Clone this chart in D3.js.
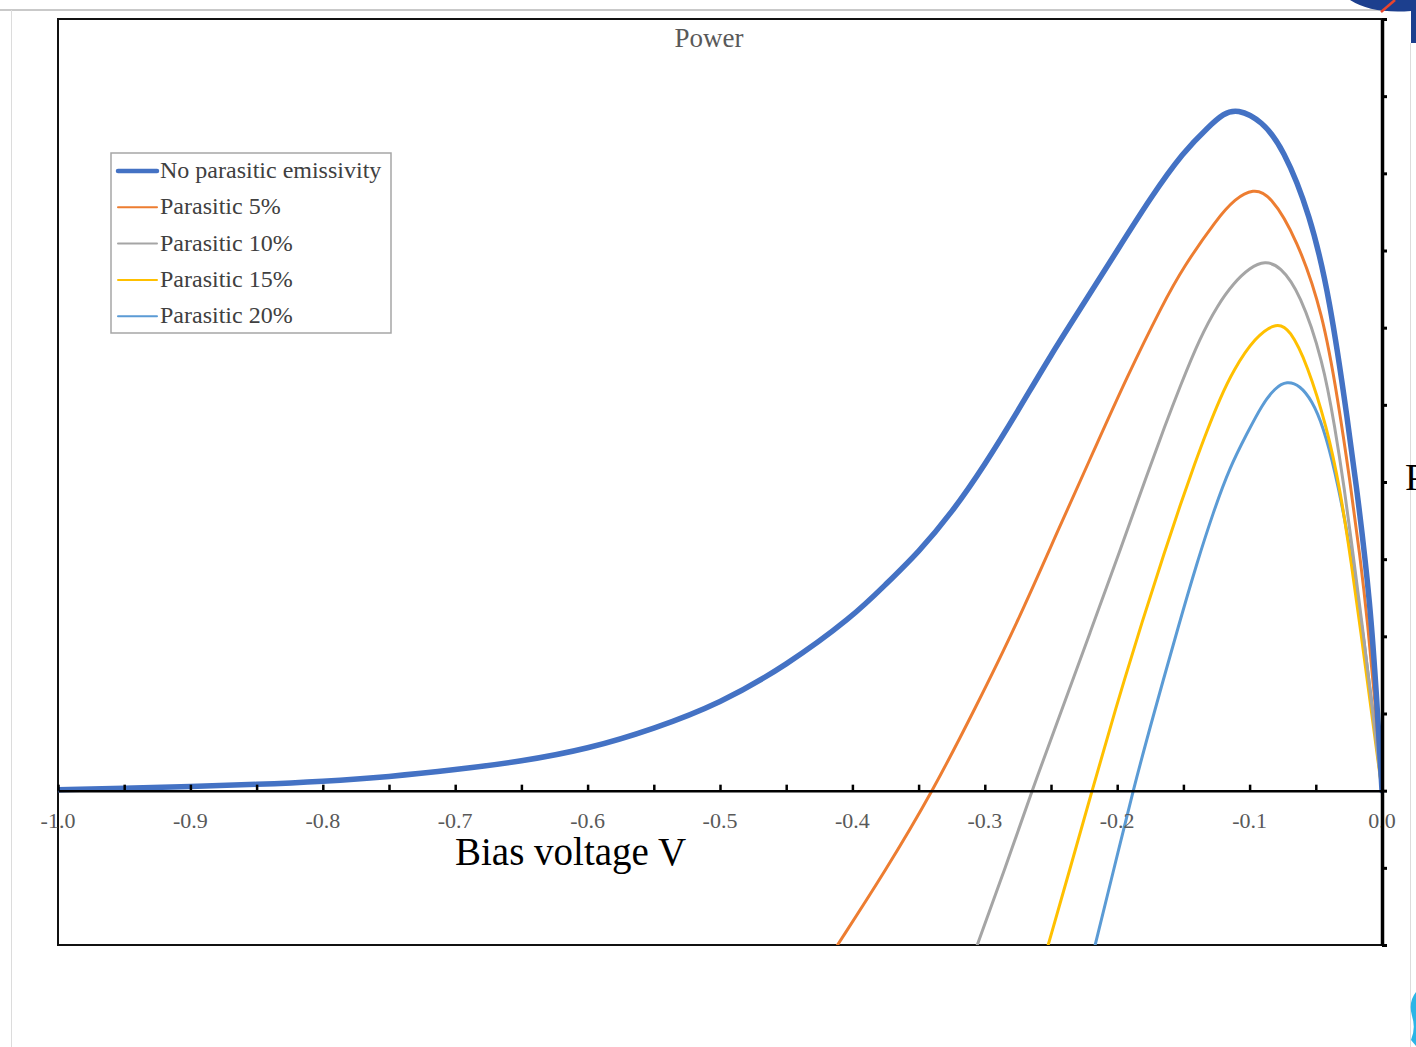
<!DOCTYPE html>
<html>
<head>
<meta charset="utf-8">
<script src="https://cdn.jsdelivr.net/npm/d3@7"></script>
<style>
  body { margin: 0; background: #fff; }
  svg { display: block; }
</style>
</head>
<body>
<div id="chart"></div>
<script>
// --- Data (bias voltage V, power in axis units) ---
const seriesNames = ["No parasitic emissivity", "Parasitic 5%", "Parasitic 10%", "Parasitic 15%", "Parasitic 20%"];

const voltsNone = [-1.0, -0.95, -0.9, -0.85, -0.8, -0.75, -0.7, -0.65, -0.6, -0.55, -0.5, -0.45, -0.4, -0.375, -0.35, -0.325, -0.3, -0.275, -0.25, -0.225, -0.2, -0.175, -0.15, -0.13, -0.12, -0.1095, -0.0906, -0.0748, -0.0544, -0.0393, -0.0257, -0.0174, -0.0091, -0.0038, 0];
const powerNone = [0.013, 0.03, 0.052, 0.08, 0.12, 0.18, 0.27, 0.38, 0.54, 0.80, 1.13, 1.62, 2.25, 2.67, 3.09, 3.60, 4.22, 4.92, 5.65, 6.32, 7.00, 7.68, 8.28, 8.62, 8.77, 8.84, 8.68, 8.332, 7.477, 6.376, 4.769, 3.693, 2.462, 1.166, 0];

const volts5 = [-0.4116, -0.3754, -0.3391, -0.3074, -0.2764, -0.2432, -0.2183, -0.1926, -0.1654, -0.1503, -0.1246, -0.111, -0.0974, -0.0846, -0.0642, -0.0446, -0.0332, -0.0242, -0.0166, -0.0106, -0.0053, 0];
const power5 = [-2.009, -1.05, 0, 1.063, 2.138, 3.434, 4.38, 5.365, 6.311, 6.777, 7.412, 7.67, 7.80, 7.73, 7.153, 6.181, 5.054, 4.017, 3.045, 2.138, 1.166, 0];

const volts10 = [-0.3059, -0.2847, -0.2644, -0.2432, -0.2205, -0.1979, -0.1775, -0.1639, -0.1526, -0.1375, -0.1239, -0.1125, -0.0997, -0.0884, -0.077, -0.0619, -0.0446, -0.0355, -0.0287, -0.0212, -0.0144, -0.0076, 0];
const power10 = [-2.009, -1.011, 0, 0.985, 2.047, 3.11, 4.095, 4.73, 5.235, 5.87, 6.298, 6.57, 6.78, 6.865, 6.80, 6.453, 5.572, 4.704, 3.952, 2.98, 2.073, 1.101, 0];

const volts15 = [-0.2523, -0.2356, -0.219, -0.2017, -0.1805, -0.1639, -0.1526, -0.1412, -0.1322, -0.1224, -0.1125, -0.0959, -0.0793, -0.0695, -0.0566, -0.0415, -0.0317, -0.0234, -0.0159, -0.0083, 0];
const power15 = [-2.009, -1.011, 0, 1.037, 2.229, 3.11, 3.693, 4.25, 4.665, 5.08, 5.443, 5.88, 6.075, 5.975, 5.533, 4.704, 3.913, 2.98, 2.047, 1.063, 0];

const volts20 = [-0.2168, -0.2024, -0.1881, -0.173, -0.1526, -0.1397, -0.1276, -0.1148, -0.102, -0.0906, -0.0808, -0.0718, -0.0619, -0.0529, -0.0446, -0.0355, -0.0264, -0.0196, -0.0136, -0.0076, 0];
const power20 = [-2.009, -1.011, 0, 0.959, 2.203, 2.955, 3.602, 4.198, 4.627, 5.002, 5.22, 5.31, 5.25, 5.054, 4.73, 4.147, 3.369, 2.656, 1.944, 1.14, 0];

const xTickValues = [-1.0, -0.9, -0.8, -0.7, -0.6, -0.5, -0.4, -0.3, -0.2, -0.1, 0.0];
const xTickLabels = ["-1.0", "-0.9", "-0.8", "-0.7", "-0.6", "-0.5", "-0.4", "-0.3", "-0.2", "-0.1", "0.0"];
const yTickValues = [-2, -1, 0, 1, 2, 3, 4, 5, 6, 7, 8, 9, 10];

// --- Styles (kept apart from the data) ---
const seriesColors = ["#4472C4", "#ED7D31", "#A5A5A5", "#FFC000", "#5B9BD5"];
const seriesWidths = [5.5, 3, 3, 3, 3];
const serif = "'Liberation Serif', 'DejaVu Serif', serif";

const series = [
  [voltsNone, powerNone], [volts5, power5], [volts10, power10], [volts15, power15], [volts20, power20]
].map(([xs, ys], i) => ({
  name: seriesNames[i],
  color: seriesColors[i],
  width: seriesWidths[i],
  points: xs.map((v, j) => ({ v, p: ys[j] }))
}));

// --- Canvas ---
const W = 1416, H = 1047;
const plot = { left: 58, right: 1382, top: 19, bottom: 945 };

const svg = d3.select("#chart")
  .append("svg")
  .attr("width", W)
  .attr("height", H)
  .style("font-family", serif);

svg.append("rect").attr("width", W).attr("height", H).attr("fill", "#fff");

// --- Page surroundings from the screenshot ---
svg.append("line").attr("x1", 0).attr("x2", W).attr("y1", 10).attr("y2", 10)
  .attr("stroke", "#c9c9c9").attr("stroke-width", 2);
svg.append("line").attr("x1", 11.5).attr("x2", 11.5).attr("y1", 10).attr("y2", H)
  .attr("stroke", "#dcdcdc").attr("stroke-width", 1);
svg.append("line").attr("x1", 1410.5).attr("x2", 1410.5).attr("y1", 43).attr("y2", H)
  .attr("stroke", "#dcdcdc").attr("stroke-width", 1);
svg.append("path")
  .attr("d", "M1350,0 Q1372,14 1411,11 L1411,43 L1416,43 L1416,0 Z")
  .attr("fill", "#1c3f8e");
svg.append("line").attr("x1", 1381).attr("y1", 12).attr("x2", 1395).attr("y2", 0)
  .attr("stroke", "#e8452c").attr("stroke-width", 2.5);
svg.append("path")
  .attr("d", "M1416,992 Q1408,1002 1412,1016 Q1416,1028 1411,1040 L1416,1046 Z")
  .attr("fill", "#2bb5e6");

// --- Scales ---
const x = d3.scaleLinear().domain([-1, 0]).range([plot.left, plot.right]);
const y = d3.scaleLinear().domain([-2, 10]).range([plot.bottom, plot.top]);

// --- Clip for the curves ---
svg.append("defs").append("clipPath").attr("id", "plotClip")
  .append("rect")
  .attr("x", plot.left).attr("y", plot.top)
  .attr("width", plot.right - plot.left).attr("height", plot.bottom - plot.top);

// --- Frame ---
svg.append("rect")
  .attr("x", plot.left).attr("y", plot.top)
  .attr("width", plot.right - plot.left).attr("height", plot.bottom - plot.top)
  .attr("fill", "none")
  .attr("stroke", "#111")
  .attr("stroke-width", 2);

// --- Curves ---
const line = d3.line()
  .x(d => x(d.v))
  .y(d => y(d.p))
  .curve(d3.curveBasis);

svg.append("g")
  .attr("clip-path", "url(#plotClip)")
  .selectAll("path")
  .data(series.slice().reverse())
  .join("path")
  .attr("d", d => line(d.points))
  .attr("fill", "none")
  .attr("stroke", d => d.color)
  .attr("stroke-width", d => d.width)
  .attr("stroke-linejoin", "round")
  .attr("stroke-linecap", "round");

// --- X axis along zero power (ticks pointing up) ---
const minorTicks = d3.range(0, 21).map(i => -1 + i * 0.05);
const xAxis = svg.append("g")
  .attr("transform", `translate(0,${y(0)})`)
  .call(d3.axisTop(x).tickValues(minorTicks).tickSize(6).tickSizeOuter(0).tickFormat(""));
xAxis.select(".domain").attr("stroke", "#000").attr("stroke-width", 2.5);
xAxis.selectAll(".tick line").attr("stroke", "#000").attr("stroke-width", 2.5);

svg.append("g")
  .selectAll("text")
  .data(xTickValues)
  .join("text")
  .attr("x", d => x(d))
  .attr("y", y(0) + 37)
  .attr("text-anchor", "middle")
  .attr("fill", "#595959")
  .style("font-size", "22px")
  .text((d, i) => xTickLabels[i]);

// --- Y axis on the right (no labels visible) ---
const yAxis = svg.append("g")
  .attr("transform", `translate(${plot.right},0)`)
  .call(d3.axisRight(y).tickValues(yTickValues).tickSize(5).tickSizeOuter(0).tickFormat(""));
yAxis.select(".domain").attr("stroke", "#000").attr("stroke-width", 3.5);
yAxis.selectAll(".tick line").attr("stroke", "#000").attr("stroke-width", 3);

// --- Titles ---
svg.append("text")
  .attr("x", (plot.left + plot.right) / 2 - 11)
  .attr("y", 47)
  .attr("text-anchor", "middle")
  .attr("fill", "#595959")
  .style("font-size", "27px")
  .text("Power");

svg.append("text")
  .attr("x", 455)
  .attr("y", 865)
  .attr("fill", "#000")
  .style("font-size", "39px")
  .text("Bias voltage V");

svg.append("text")
  .attr("x", 1405)
  .attr("y", 490)
  .attr("fill", "#000")
  .style("font-size", "38px")
  .text("Power");

// --- Legend ---
const legend = svg.append("g").attr("transform", "translate(111,153)");
legend.append("rect")
  .attr("width", 280).attr("height", 180)
  .attr("fill", "#fff")
  .attr("stroke", "#a6a6a6")
  .attr("stroke-width", 1.5);

const rows = legend.selectAll("g.row")
  .data(series)
  .join("g")
  .attr("class", "row")
  .attr("transform", (d, i) => `translate(0,${18 + i * 36.3})`);

rows.append("line")
  .attr("x1", 7).attr("x2", 46)
  .attr("stroke", d => d.color)
  .attr("stroke-width", d => d.width - 1)
  .attr("stroke-linecap", "round");

rows.append("text")
  .attr("x", 49)
  .attr("y", 7)
  .attr("fill", "#404040")
  .style("font-size", "24px")
  .text(d => d.name);
</script>
</body>
</html>
